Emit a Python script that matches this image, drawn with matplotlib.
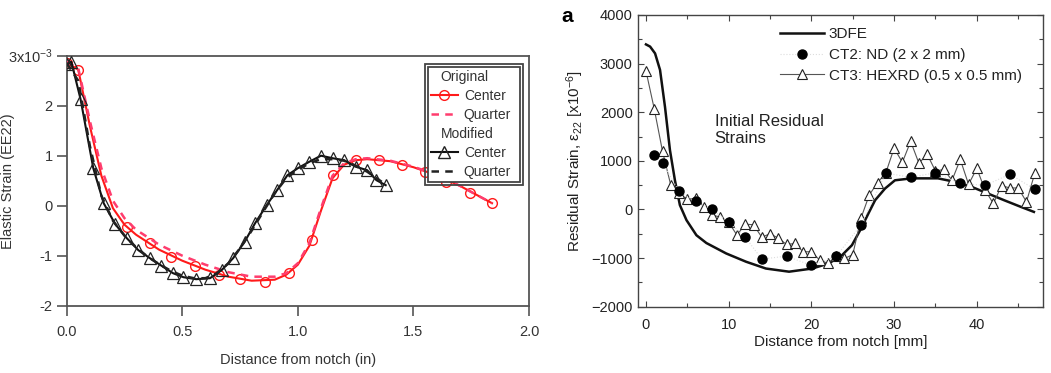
import matplotlib
matplotlib.use("Agg")
import matplotlib.pyplot as plt
from matplotlib.lines import Line2D
from matplotlib.patches import Rectangle
from matplotlib.ticker import MultipleLocator
from matplotlib.transforms import Affine2D

plt.rcParams['font.family'] = ['Liberation Sans', 'DejaVu Sans']
plt.rcParams['mathtext.fontset'] = 'custom'
plt.rcParams['mathtext.rm'] = 'Liberation Sans'
plt.rcParams['mathtext.it'] = 'Liberation Sans:italic'

# ---- left panel data (strain in units of 1e-3, distance in inches)
orig_c_x = [0.0, 0.05, 0.1, 0.15, 0.2, 0.25, 0.3, 0.4, 0.5, 0.6, 0.7, 0.8, 0.9, 0.95,
            1.0, 1.05, 1.1, 1.15, 1.2, 1.25, 1.3, 1.4, 1.5, 1.6, 1.7, 1.8, 1.84]
orig_c_y = [2.86, 2.72, 1.6, 0.6, -0.05, -0.38, -0.58, -0.88, -1.1, -1.28, -1.42, -1.5, -1.48, -1.38,
            -1.18, -0.8, -0.1, 0.55, 0.82, 0.91, 0.93, 0.89, 0.77, 0.61, 0.4, 0.15, 0.05]
orig_c_mx = [0.0, 0.05, 0.26, 0.36, 0.45, 0.555, 0.66, 0.75, 0.86, 0.96, 1.06, 1.15, 1.25,
             1.35, 1.45, 1.55, 1.64, 1.745, 1.84]
orig_c_my = [2.86, 2.71, -0.42, -0.75, -1.02, -1.21, -1.39, -1.47, -1.52, -1.35, -0.69, 0.61, 0.91,
             0.91, 0.81, 0.68, 0.48, 0.25, 0.05]
orig_q_x = orig_c_x
orig_q_y = [2.88, 2.75, 1.7, 0.75, 0.1, -0.25, -0.48, -0.78, -1.0, -1.18, -1.33, -1.42, -1.42, -1.35,
            -1.15, -0.75, -0.05, 0.6, 0.85, 0.93, 0.95, 0.9, 0.78, 0.62, 0.4, 0.15, 0.05]

mod_c_x = [0.0, 0.02, 0.06, 0.115, 0.16, 0.21, 0.26, 0.31, 0.36, 0.41, 0.46, 0.505, 0.56, 0.62, 0.67,
           0.72, 0.77, 0.815, 0.865, 0.91, 0.955, 1.0, 1.05, 1.10, 1.15, 1.20, 1.25, 1.30, 1.34, 1.38]
mod_c_y = [2.83, 2.88, 2.13, 0.75, 0.05, -0.37, -0.65, -0.89, -1.05, -1.2, -1.35, -1.43, -1.47, -1.45, -1.29,
           -1.05, -0.72, -0.35, 0.01, 0.31, 0.61, 0.75, 0.88, 1.0, 0.95, 0.91, 0.78, 0.71, 0.51, 0.41]
mod_q_x = [0, 0.05, 0.1, 0.15, 0.2, 0.25, 0.3, 0.35, 0.4, 0.45, 0.5, 0.55, 0.6, 0.65, 0.7,
           0.75, 0.8, 0.85, 0.9, 0.95, 1.0, 1.05, 1.1, 1.15, 1.2, 1.25, 1.3, 1.35, 1.38]
mod_q_y = [2.85, 2.5, 1.2, 0.2, -0.3, -0.6, -0.83, -1.02, -1.17, -1.3, -1.4, -1.45, -1.45, -1.35, -1.15,
           -0.85, -0.5, -0.12, 0.25, 0.55, 0.72, 0.85, 0.93, 0.93, 0.9, 0.8, 0.68, 0.52, 0.42]
left_xticks = [0, 0.5, 1.0, 1.5, 2.0]
left_xticklabels = ['0.0', '0.5', '1.0', '1.5', '2.0']
left_yticks = [-2, -1, 0, 1, 2, 3]
left_yticklabels = ['-2', '-1', '0', '1', '2', r'$\mathregular{3x10^{-3}}$']

# ---- right panel data (microstrain, mm)
fe_x = [0, 0.5, 1.1, 1.7, 2.3, 2.9, 3.5, 4.1, 4.9, 6.1, 7.3, 9.7, 12.1, 14.5, 17.3, 20.1, 22.1, 23.7,
        24.9, 25.9, 26.9, 27.7, 28.9, 30.1, 32.1, 35.3, 37.3, 39.3, 41.3, 43.3, 45.3, 46.9]
fe_y = [3395, 3350, 3210, 2870, 2110, 1220, 600, 90, -220, -530, -690, -905, -1075, -1215, -1280,
        -1215, -1110, -940, -735, -425, -80, 190, 430, 600, 640, 640, 570, 470, 330, 190, 55, -50]
ct2_x = [1, 2, 4, 6, 8, 10, 12, 14, 17, 20, 23, 26, 29, 32, 35, 38, 41, 44, 47]
ct2_y = [1115, 960, 370, 165, 0, -260, -570, -1020, -960, -1150, -960, -320, 750, 660, 755, 535, 495,
         725, 415]
ct3_x = list(range(48))
ct3_y = [2850, 2070, 1195, 500, 330, 210, 230, 60, -117, -155, -265, -528, -302, -315, -570, -500,
         -590, -720, -700, -870, -870, -1040, -1110, -955, -1008, -930, -175, 300, 550, 755, 1260, 970,
         1400, 950, 1135, 790, 823, 600, 1028, 517, 843, 397, 123, 490, 442, 442, 157, 740]

W, H = 1051, 373
fig = plt.figure(figsize=(W / 100, H / 100), dpi=100)

# ================= left panel
ax1 = fig.add_axes([66.7 / W, 1 - 305.7 / H, (529 - 66.7) / W, 250 / H])
red = '#ff1a1a'
pink = '#ff3d6e'
ax1.plot(orig_c_x, orig_c_y, color=red, lw=1.5, zorder=3)
ax1.plot(orig_c_mx, orig_c_my, ls='none', marker='o', ms=7, mfc='none', mec=red, mew=1.0, zorder=3)
ax1.plot(orig_q_x, orig_q_y, color=pink, lw=1.8, ls=(0, (3, 2.5)), zorder=3)
ax1.plot(mod_c_x, mod_c_y, color='#111111', lw=1.5, marker='^', ms=8, mfc='none', mec='#222222',
         mew=0.9, zorder=4)
ax1.plot(mod_q_x, mod_q_y, color='#222222', lw=1.8, ls=(0, (3, 2.5)), zorder=4)

ax1.set_xlim(0, 2.0)
ax1.set_ylim(-2, 3)
ax1.set_xticks(left_xticks)
ax1.set_xticklabels(left_xticklabels)
ax1.set_yticks(left_yticks)
ax1.set_yticklabels(left_yticklabels)
for s in ax1.spines.values():
    s.set_color('#555555')
    s.set_linewidth(1.3)
ax1.tick_params(direction='out', length=7, width=1.2, color='#555555', labelsize=10.5,
                labelcolor='#333333', pad=7)
ax1.tick_params(axis='y', pad=3)
ax1.set_xlabel('Distance from notch (in)', fontsize=10.5, color='#333333', labelpad=10)
ax1.set_ylabel('Elastic Strain (EE22)', fontsize=10.5, color='#333333')
ax1.yaxis.set_label_coords((15 - 66.7) / 462.3, 0.5)

blank = Line2D([], [], ls='none')
h_oc = Line2D([], [], color=red, lw=1.5, marker='o', ms=7, mfc='none', mec=red)
h_oq = Line2D([], [], color=pink, lw=1.8, ls=(0, (3, 2.5)))
h_mc = Line2D([], [], color='#111111', lw=1.5, marker='^', ms=8, mfc='none', mec='#222222')
h_mq = Line2D([], [], color='#222222', lw=1.8, ls=(0, (3, 2.5)))
leg1 = ax1.legend([blank, h_oc, h_oq, blank, h_mc, h_mq],
                  ['Original', 'Center', 'Quarter', 'Modified', 'Center', 'Quarter'],
                  loc='upper right', bbox_to_anchor=(520 / W, 1 - 67 / H),
                  bbox_transform=fig.transFigure, fontsize=10, handlelength=1.9,
                  handletextpad=0.45, labelspacing=0.35, borderpad=0.25, borderaxespad=0,
                  fancybox=False, framealpha=1, edgecolor='#444444')
leg1.get_frame().set_linewidth(1.3)
for t in leg1.get_texts():
    t.set_color('#333333')

# shift the group headers left like the original
for i in (0, 3):
    t = leg1.get_texts()[i]
    t.set_transform(t.get_transform() + Affine2D().translate(-23, 0))

fig.canvas.draw()
bb = leg1.get_window_extent()
ax1.add_patch(Rectangle((bb.x0 - 3, bb.y0 - 3), bb.width + 6, bb.height + 6, transform=None,
                        fill=False, edgecolor='#444444', lw=1.3, zorder=10, clip_on=False))

# ================= right panel
ax2 = fig.add_axes([637.7 / W, 1 - 306.7 / H, (1043 - 637.7) / W, (306.7 - 15) / H])
ax2.plot(fe_x, fe_y, color='#111111', lw=1.8, zorder=2, label='3DFE')
ax2.plot(ct2_x, ct2_y, color='#dddddd', lw=0.8, ls=':', marker='o', ms=6.5, mfc='black',
         mec='black', zorder=4, label='CT2: ND (2 x 2 mm)')
ax2.plot(ct3_x, ct3_y, color='#555555', lw=0.8, marker='^', ms=6.5, mfc='white', mec='#222222',
         mew=0.8, zorder=3, label='CT3: HEXRD (0.5 x 0.5 mm)')

ax2.set_xlim(-1, 48)
ax2.set_ylim(-2000, 4000)
ax2.xaxis.set_major_locator(MultipleLocator(10))
ax2.xaxis.set_minor_locator(MultipleLocator(5))
ax2.yaxis.set_major_locator(MultipleLocator(1000))
ax2.yaxis.set_minor_locator(MultipleLocator(500))
ax2.tick_params(which='both', direction='in', top=True, right=True, color='#444444',
                labelsize=10.5, labelcolor='#222222')
ax2.tick_params(axis='x', pad=8)
ax2.tick_params(which='major', length=4, width=0.8)
ax2.tick_params(which='minor', length=3, width=0.8)
for s in ax2.spines.values():
    s.set_color('#444444')
    s.set_linewidth(1.0)
ax2.set_xlabel('Distance from notch [mm]', fontsize=11, color='#222222', labelpad=2)
ax2.set_ylabel(r'Residual Strain, ε$\mathregular{_{22}}$ [x10$\mathregular{^{-6}}$]', fontsize=11,
               color='#222222', labelpad=4)
ax2.text(0.19, 0.605, 'Initial Residual\nStrains', transform=ax2.transAxes, fontsize=12,
         color='#222222', va='center', ha='left', linespacing=1.15)
leg2 = ax2.legend(loc='upper left', bbox_to_anchor=(780 / W, 1 - 27 / H), bbox_transform=fig.transFigure,
                  frameon=False, fontsize=11, handlelength=2.9, handletextpad=0.3, labelspacing=0.45,
                  borderpad=0, borderaxespad=0)
for t in leg2.get_texts():
    t.set_color('#222222')
fig.text(567 / W, 1 - 16 / H, 'a', fontsize=15, fontweight='bold', ha='center', va='center')

fig.savefig('out.png', dpi=100)
